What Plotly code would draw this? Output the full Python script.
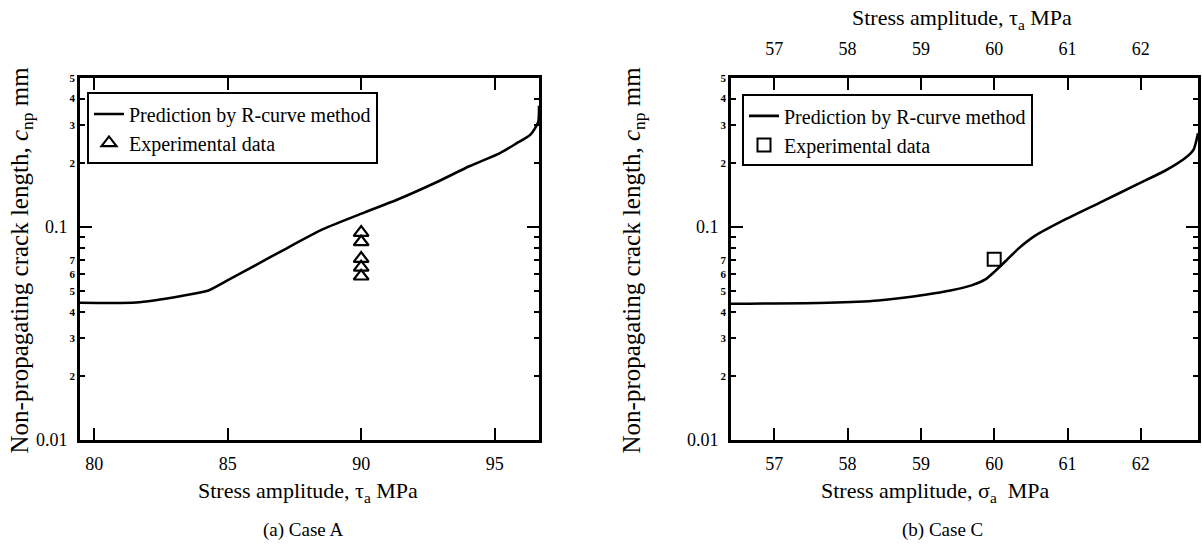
import math
import plotly.graph_objects as go

# ---------------- data ----------------
# (a) Case A : prediction curve
tau_a_A = [79.47, 81.57, 83.32, 84.25, 84.94, 86.07, 87.07, 88.57, 90.13, 91.32,
           92.82, 94.07, 95.2, 95.83, 96.33, 96.63, 96.66]
c_np_A = [0.0441, 0.0442, 0.0476, 0.0502, 0.0557, 0.0664, 0.0777, 0.0976, 0.117, 0.1337,
          0.162, 0.193, 0.222, 0.247, 0.27, 0.31, 0.37]
# (a) Case A : experimental data
exp_tau_A = [90, 90, 90, 90, 90]
exp_c_A = [0.094, 0.085, 0.071, 0.0646, 0.0587]

# (b) Case C : prediction curve
sigma_a_C = [56.41, 57.73, 58.42, 59.06, 59.42, 59.69, 59.88, 60.01, 60.15, 60.33,
             60.56, 60.97, 61.47, 61.97, 62.33, 62.61, 62.72, 62.78]
c_np_C = [0.0436, 0.0441, 0.0452, 0.0481, 0.0505, 0.0532, 0.0567, 0.0619, 0.0688, 0.0791,
          0.091, 0.1084, 0.1314, 0.1596, 0.1834, 0.211, 0.2305, 0.275]
# (b) Case C : experimental data
exp_sigma_C = [60.0]
exp_c_C = [0.0705]

# ticks
x_ticks_A = [80, 85, 90, 95]
x_ticks_C = [57, 58, 59, 60, 61, 62]
y_major = [0.01, 0.1]
y_major_text = ["0.01", "0.1"]
y_minor = [0.02, 0.03, 0.04, 0.05, 0.06, 0.07, 0.2, 0.3, 0.4, 0.5]
y_minor_text = ["2", "3", "4", "5", "6", "7", "2", "3", "4", "5"]
y_unlabeled = [0.08, 0.09]

# ---------------- layout geometry ----------------
W, H = 1202, 557
SERIF = "Liberation Serif"


def px_x(p):
    return p / W


def px_y(p):
    return 1 - p / H


dom_xA = [px_x(80), px_x(539)]
dom_xC = [px_x(731), px_x(1198)]
dom_y = [px_y(447), px_y(74)]
yrange = [math.log10(0.01), math.log10(0.5)]
xrange_A = [79.47, 96.66]
xrange_C = [56.41, 62.78]

fig = go.Figure()

# Case A
fig.add_trace(go.Scatter(x=tau_a_A, y=c_np_A, mode="lines",
                         line=dict(color="black", width=2.6, shape="spline", smoothing=0.6),
                         name="Prediction by R-curve method", legend="legend",
                         xaxis="x", yaxis="y"))
fig.add_trace(go.Scatter(x=exp_tau_A, y=exp_c_A, mode="markers",
                         marker=dict(symbol="triangle-up-open", size=13, color="black",
                                     line=dict(width=2.2, color="black")),
                         name="Experimental data", legend="legend",
                         xaxis="x", yaxis="y3"))
# Case C
fig.add_trace(go.Scatter(x=sigma_a_C, y=c_np_C, mode="lines",
                         line=dict(color="black", width=2.6, shape="spline", smoothing=0.6),
                         name="Prediction by R-curve method", legend="legend2",
                         xaxis="x2", yaxis="y2"))
fig.add_trace(go.Scatter(x=exp_sigma_C, y=exp_c_C, mode="markers",
                         marker=dict(symbol="square-open", size=13, color="black",
                                     line=dict(width=2, color="black")),
                         name="Experimental data", legend="legend2",
                         xaxis="x4", yaxis="y4"))

common_axis = dict(showline=True, linecolor="black", linewidth=2.6, ticks="inside",
                   tickcolor="black", tickwidth=2.2, showgrid=False, zeroline=False)

xbase = dict(common_axis, ticklen=12, mirror="ticks",
             tickfont=dict(family=SERIF, size=18, color="black"), ticklabelstandoff=5)
ymaj = dict(common_axis, type="log", range=yrange, domain=dom_y, ticklen=12, mirror="ticks",
            tickmode="array", tickvals=y_major, ticktext=y_major_text,
            tickfont=dict(family=SERIF, size=18, color="black"), ticklabelstandoff=6)
ymin = dict(common_axis, type="log", range=yrange, ticklen=5, mirror="ticks",
            tickmode="array", tickvals=y_minor, ticktext=y_minor_text,
            tickfont=dict(family=SERIF, size=11, color="black", weight="bold"),
            ticklabelstandoff=0,
            minor=dict(tickmode="array", tickvals=y_unlabeled, ticks="inside", ticklen=5,
                       tickwidth=2.2, tickcolor="black", showgrid=False))

legend_common = dict(xanchor="left", yanchor="top", bordercolor="black", borderwidth=2,
                     bgcolor="white", font=dict(family=SERIF, size=20, color="black"),
                     tracegroupgap=0, itemwidth=30)

fig.update_layout(
    width=W, height=H,
    margin=dict(l=0, r=0, t=0, b=0),
    paper_bgcolor="white", plot_bgcolor="white",
    showlegend=True,
    xaxis=dict(xbase, domain=dom_xA, range=xrange_A, anchor="y",
               tickmode="array", tickvals=x_ticks_A),
    yaxis=dict(ymaj, anchor="x"),
    yaxis3=dict(ymin, overlaying="y", anchor="x", side="left"),
    xaxis2=dict(xbase, domain=dom_xC, range=xrange_C, anchor="y2",
                tickmode="array", tickvals=x_ticks_C),
    yaxis2=dict(ymaj, anchor="x2"),
    xaxis4=dict(common_axis, overlaying="x2", anchor="y2", side="top", range=xrange_C,
                tickmode="array", tickvals=x_ticks_C, ticks="", showline=False,
                tickfont=dict(family=SERIF, size=18, color="black"), ticklabelstandoff=18),
    yaxis4=dict(ymin, overlaying="y2", anchor="x2", side="left"),
    legend=dict(legend_common, x=px_x(87), y=px_y(89)),
    legend2=dict(legend_common, x=px_x(742), y=px_y(91)),
)

ann_font = dict(family=SERIF, size=22, color="black")
ytitle = "Non-propagating crack length, <i>c</i><sub>np</sub> mm"
annotations = [
    dict(text=ytitle, x=px_x(21), y=px_y(262), textangle=-90,
         font=dict(family=SERIF, size=25, color="black")),
    dict(text=ytitle, x=px_x(633), y=px_y(262), textangle=-90,
         font=dict(family=SERIF, size=25, color="black")),
    dict(text="Stress amplitude, τ<sub>a</sub> MPa", x=px_x(308), y=px_y(500), font=ann_font),
    dict(text="Stress amplitude, σ<sub>a</sub>  MPa", x=px_x(935), y=px_y(500), font=ann_font),
    dict(text="Stress amplitude, τ<sub>a</sub> MPa", x=px_x(962), y=px_y(13), font=ann_font),
    dict(text="(a) Case A", x=px_x(303), y=px_y(539), font=dict(family=SERIF, size=19, color="black")),
    dict(text="(b) Case C", x=px_x(942), y=px_y(539), font=dict(family=SERIF, size=19, color="black")),
]
for a in annotations:
    a.update(xref="paper", yref="paper", showarrow=False, xanchor="center", yanchor="middle")
fig.update_layout(annotations=annotations)

fig.write_html("out.html",
               config={"displayModeBar": False},
               post_script="document.body.style.margin='0';"
                           "document.body.style.overflow='hidden';")
